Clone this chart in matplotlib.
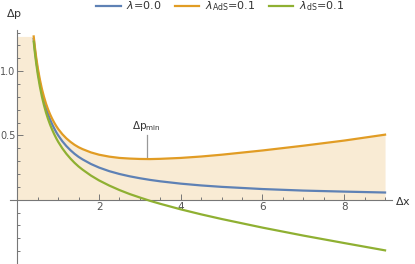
import matplotlib.pyplot as plt

# values
dx = [0.4, 0.43, 0.46, 0.5, 0.55, 0.6, 0.65, 0.7, 0.75, 0.8, 0.85, 0.9, 0.95, 1.0, 1.1, 1.2,
      1.3, 1.4, 1.5, 1.6, 1.8, 2.0, 2.25, 2.5, 2.75, 3.0, 3.25, 3.5, 4.0, 4.5, 5.0, 6.0, 7.0,
      8.0, 9.0]
dp_zero = [1.25, 1.163, 1.087, 1.0, 0.909, 0.833, 0.769, 0.714, 0.667, 0.625, 0.588, 0.556,
           0.526, 0.5, 0.455, 0.417, 0.385, 0.357, 0.333, 0.313, 0.278, 0.25, 0.222, 0.2,
           0.182, 0.167, 0.154, 0.143, 0.125, 0.111, 0.1, 0.083, 0.071, 0.063, 0.056]
dp_ads = [1.27, 1.185, 1.11, 1.025, 0.937, 0.863, 0.802, 0.749, 0.704, 0.665, 0.631, 0.601,
          0.574, 0.55, 0.51, 0.477, 0.45, 0.427, 0.408, 0.393, 0.368, 0.35, 0.335, 0.325,
          0.32, 0.317, 0.316, 0.318, 0.325, 0.336, 0.35, 0.383, 0.42, 0.46, 0.506]
dp_ds = [1.23, 1.141, 1.064, 0.975, 0.882, 0.803, 0.737, 0.679, 0.629, 0.585, 0.546, 0.511,
         0.479, 0.45, 0.4, 0.357, 0.32, 0.287, 0.258, 0.233, 0.188, 0.15, 0.11, 0.075, 0.044,
         0.017, -0.009, -0.032, -0.075, -0.114, -0.15, -0.217, -0.279, -0.337, -0.394]
fill_x = [0.0] + dx
fill_top = [1.27] + dp_ads
dp_min_x = 3.17
dp_min_y = [0.335, 0.5]

blue = '#5E81B5'
orange = '#E19C24'
green = '#8FB032'
gray = '#555555'

fig = plt.figure(figsize=(4.15, 2.64), dpi=100)
ax = fig.add_axes([10 / 415, 0.0, 382 / 415, 234 / 264])

ax.fill_between(fill_x, 0, fill_top, color='#F9EBD4', lw=0, zorder=1)
ax.plot(dx, dp_zero, color=blue, lw=1.6, label=r'$\lambda$=0.0', zorder=3)
ax.plot(dx, dp_ads, color=orange, lw=1.6, label=r'$\lambda_{\mathrm{AdS}}$=0.1', zorder=3)
ax.plot(dx, dp_ds, color=green, lw=1.6, label=r'$\lambda_{\mathrm{dS}}$=0.1', zorder=3)

# minimum marker
ax.plot([dp_min_x, dp_min_x], dp_min_y, color='#999999', lw=0.9, zorder=2)
ax.text(dp_min_x, 0.52, r'$\Delta\mathregular{p}_{\mathregular{min}}$', ha='center', va='bottom',
        fontsize=7.5, color='#333333')

ax.set_xlim(-0.18, 9.17)
ax.set_ylim(-0.5, 1.32)

for s in ['top', 'right']:
    ax.spines[s].set_visible(False)
ax.spines['left'].set_position(('data', 0))
ax.spines['bottom'].set_position(('data', 0))
for s in ['left', 'bottom']:
    ax.spines[s].set_color('#777777')
    ax.spines[s].set_linewidth(0.8)

ax.set_xticks([2, 4, 6, 8])
ax.set_xticks([x / 2 for x in range(1, 19)], minor=True)
ax.set_yticks([0.5, 1.0])
ax.set_yticklabels(['0.5', '1.0'])
ax.set_yticks([y / 10 for y in range(-4, 14)], minor=True)
ax.tick_params(which='both', direction='in', colors='#777777', labelcolor=gray,
               labelsize=7.5, width=0.7)
ax.tick_params(which='major', length=4)
ax.tick_params(which='minor', length=2.5)
ax.tick_params(axis='x', pad=2)
ax.tick_params(axis='y', pad=1.5, labelsize=7)

fig.text(14 / 415, 1 - 14 / 264, r'$\Delta$p', ha='center', va='center', fontsize=8, color='#333333')
fig.text(403 / 415, 1 - 201 / 264, r'$\Delta$x', ha='center', va='center', fontsize=8, color='#333333')

fig.legend(loc='upper center', bbox_to_anchor=(0.53, 1.04), ncol=3, frameon=False,
           fontsize=8, handlelength=2.2, columnspacing=1.2, handletextpad=0.5,
           labelcolor='#333333')

fig.savefig('out.png', dpi=100)
